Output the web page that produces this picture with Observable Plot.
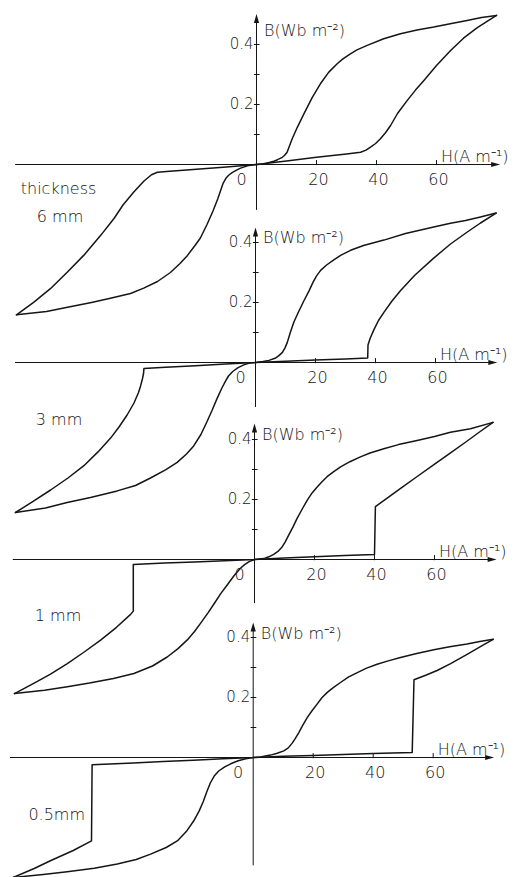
<!DOCTYPE html>
<html>
<head>
<meta charset="utf-8">
<script src="https://cdn.jsdelivr.net/npm/d3@7"></script>
<script src="https://cdn.jsdelivr.net/npm/@observablehq/plot@0.6"></script>
<style>
  html, body { margin: 0; padding: 0; background: #fff; overflow: hidden; }
  #chart { position: relative; width: 519px; height: 877px; overflow: hidden; background: #fff; }
  #chart svg { position: absolute; left: 0; }
</style>
</head>
<body>
<div id="chart"></div>
<script>
// ---- Data: B (Wb m^-2) versus H (A m^-1), pairs [H, B] ----
// 6 mm
const desc6 = [[80,0.497],[75,0.49],[70.2,0.48],[65,0.47],[59.1,0.458],[53.5,0.448],[48,0.436],[42.4,0.419],[36.9,0.397],[33.5,0.382],[31.3,0.369],[28.8,0.352],[26.9,0.336],[24.1,0.308],[21.3,0.269],[18.6,0.224],[15.8,0.169],[13.6,0.124],[11.9,0.086],[10.2,0.041],[9.3,0.03],[8.6,0.024],[7,0.016],[5.8,0.011],[2.4,0.002],[0,0],[-10,-0.008],[-20,-0.016],[-30,-0.023],[-33,-0.026],[-35,-0.034],[-37.5,-0.055],[-40.9,-0.092],[-44.5,-0.135],[-47.5,-0.18],[-52,-0.237],[-57.6,-0.303],[-63.1,-0.359],[-68.7,-0.414],[-74.2,-0.459],[-80,-0.501]];
const asc6 = [[-80,-0.501],[-70,-0.49],[-63,-0.476],[-55,-0.46],[-48.7,-0.446],[-42,-0.43],[-37.6,-0.412],[-33,-0.39],[-28.7,-0.36],[-25.5,-0.33],[-23,-0.303],[-20.5,-0.27],[-18.7,-0.245],[-16.5,-0.2],[-14.5,-0.155],[-12.9,-0.114],[-11.1,-0.062],[-10.2,-0.046],[-9.2,-0.035],[-8,-0.026],[-6.5,-0.018],[-5.3,-0.012],[-2.5,-0.003],[0,0],[10,0.012],[20,0.024],[30,0.035],[34.7,0.041],[36.5,0.048],[38,0.058],[39.7,0.07],[41.3,0.086],[43,0.106],[44.7,0.13],[47,0.17],[50.2,0.213],[53,0.248],[55.8,0.28],[60,0.33],[64.7,0.38],[69,0.421],[73.6,0.456],[77,0.478],[80,0.497]];
// 3 mm
const desc3 = [[80.2,0.498],[75,0.485],[70,0.473],[65,0.464],[59.4,0.452],[50,0.43],[42.8,0.408],[36,0.39],[31.7,0.374],[28.5,0.358],[26.1,0.342],[23.7,0.325],[21.7,0.307],[20.3,0.288],[19.2,0.268],[17.8,0.238],[16.1,0.205],[14.4,0.17],[12.8,0.135],[11.6,0.1],[10.6,0.067],[9.8,0.048],[8.9,0.033],[7.7,0.022],[6.5,0.014],[4.5,0.007],[2.5,0.003],[0,0],[-10,-0.005],[-20,-0.011],[-30,-0.016],[-37.2,-0.02],[-37.3,-0.035],[-37.7,-0.055],[-38.3,-0.078],[-39,-0.1],[-40.5,-0.135],[-42.8,-0.175],[-45.5,-0.215],[-48.3,-0.252],[-52.5,-0.298],[-57.2,-0.344],[-62.5,-0.385],[-68.3,-0.425],[-74,-0.462],[-80,-0.5]];
const asc3 = [[-80,-0.5],[-70,-0.485],[-62.8,-0.467],[-55,-0.45],[-46.1,-0.428],[-40,-0.41],[-35,-0.385],[-30,-0.358],[-26.1,-0.333],[-23,-0.305],[-20.6,-0.278],[-18.2,-0.24],[-16.3,-0.2],[-14.5,-0.16],[-12.9,-0.122],[-11.2,-0.085],[-10,-0.062],[-9,-0.045],[-7.6,-0.03],[-5.8,-0.017],[-3.9,-0.008],[-2,-0.002],[0,0],[10,0.004],[20,0.008],[30,0.012],[37.4,0.015],[37.5,0.058],[38.2,0.08],[39.4,0.108],[41,0.14],[42.8,0.167],[45.5,0.205],[48.3,0.239],[53,0.29],[59.4,0.348],[65,0.395],[70.6,0.435],[75,0.465],[80.2,0.498]];
// 1 mm
const desc1 = [[79.5,0.457],[72,0.436],[65.3,0.424],[60,0.41],[54.2,0.397],[48,0.383],[43.1,0.369],[38.5,0.355],[35.3,0.342],[31.8,0.326],[28.7,0.309],[26.3,0.292],[24.2,0.276],[22.5,0.259],[20.9,0.242],[19.2,0.222],[17.6,0.198],[16,0.17],[14.2,0.137],[12.8,0.108],[11.4,0.081],[10.2,0.058],[9.2,0.042],[7.8,0.027],[6.4,0.017],[4.8,0.009],[3.1,0.003],[0,0],[-10,-0.004],[-20,-0.008],[-30,-0.012],[-40.4,-0.017],[-40.4,-0.172],[-41.3,-0.183],[-46,-0.226],[-51.3,-0.269],[-57,-0.31],[-62.4,-0.347],[-68,-0.382],[-73.6,-0.413],[-80,-0.447]];
const asc1 = [[-80,-0.447],[-70,-0.436],[-62.4,-0.424],[-55,-0.412],[-47,-0.397],[-40.2,-0.38],[-34,-0.355],[-29.1,-0.325],[-25.5,-0.297],[-22.4,-0.268],[-20,-0.24],[-18,-0.213],[-15.5,-0.178],[-13.3,-0.145],[-11.2,-0.113],[-9.1,-0.085],[-6.9,-0.055],[-4.7,-0.029],[-3.3,-0.017],[-1.8,-0.007],[0,0],[10,0.005],[20,0.009],[30,0.013],[40,0.017],[40.3,0.176],[44,0.203],[48.7,0.237],[54,0.275],[59.8,0.316],[65,0.353],[70.9,0.395],[75,0.425],[79.5,0.457]];
// 0.5 mm
const desc05 = [[80,0.394],[75.5,0.387],[71.3,0.378],[65.5,0.369],[60.2,0.359],[54.5,0.347],[49.1,0.333],[45,0.322],[41.3,0.311],[37.8,0.298],[34.7,0.283],[31.7,0.268],[29.1,0.25],[26.8,0.234],[24.7,0.217],[22.9,0.199],[21.3,0.178],[19.6,0.156],[18,0.133],[16.5,0.107],[15.2,0.083],[14,0.063],[13,0.048],[11.7,0.032],[10.2,0.022],[8,0.014],[5.8,0.008],[2.4,0.002],[0,0],[-10,-0.004],[-20,-0.009],[-30,-0.013],[-40,-0.018],[-53.7,-0.024],[-53.9,-0.278],[-60,-0.31],[-67.6,-0.344],[-73,-0.37],[-80,-0.4]];
const asc05 = [[-80,-0.4],[-70,-0.39],[-62,-0.381],[-53,-0.369],[-45.3,-0.355],[-39,-0.34],[-34.2,-0.322],[-29,-0.3],[-25.3,-0.278],[-22.3,-0.247],[-19.8,-0.211],[-18,-0.178],[-16.6,-0.146],[-15.5,-0.115],[-14.3,-0.085],[-13,-0.062],[-11.5,-0.045],[-9.5,-0.031],[-7.5,-0.021],[-5,-0.011],[-2.5,-0.004],[0,0],[10,0.004],[20,0.007],[30,0.01],[40,0.013],[53,0.017],[53.6,0.259],[57.5,0.274],[61.3,0.29],[65.8,0.313],[71.3,0.344],[76.9,0.376],[80,0.394]];

// ---- Axis ticks and labels ----
const hTicks = [20, 40, 60];
const hTickLabels = ["20", "40", "60"];
const bTicks = [0.1, 0.2, 0.3, 0.4];
const bLabelTicks = [0.2, 0.4];
const bTickLabels = ["0.2", "0.4"];
const thicknessLabels = ["6 mm", "3 mm", "1 mm", "0.5mm"];
const xTitle = "H(A m\u207B\u00B9)";
const yTitle = "B(Wb m\u207B\u00B2)";
const headerLabel = "thickness";

// ---- Layout of the four stacked (overlapping) panels ----
const loops = [[asc6, desc6], [asc3, desc3], [asc1, desc1], [asc05, desc05]];
const layout = [
  {left: 16,   top: -1,    yTop: 0.502, yBottom: -0.153, xStart: -80.3, xEnd: 81.2, yTitleB: 0.445, labelB: -0.173},
  {left: 15,   top: 196.7, yTop: 0.45,  yBottom: -0.15,  xStart: -80,   xEnd: 80.6, yTitleB: 0.417, labelB: -0.191},
  {left: 14,   top: 394.3, yTop: 0.453, yBottom: -0.147, xStart: -80.4, xEnd: 80.7, yTitleB: 0.416, labelB: -0.189},
  {left: 12.7, top: 591.7, yTop: 0.45,  yBottom: -0.361, xStart: -80.9, xEnd: 80.3, yTitleB: 0.412, labelB: -0.191}
];

const ink = "#151515";
const font = "DejaVu Sans, Verdana, sans-serif";
// narrow filled arrowhead with its tip at the origin, pointing up
const arrowHead = {
  draw(context) {
    context.moveTo(0, 0);
    context.lineTo(2.6, 9);
    context.lineTo(-2.6, 9);
    context.closePath();
  }
};

const chart = document.getElementById("chart");

loops.forEach(([asc, desc], i) => {
  const L = layout[i];
  const txt = {fontSize: 16, fontFamily: font, fontWeight: 300, fill: ink};
  const marks = [
    // axes
    Plot.ruleY([0], {x1: L.xStart, x2: L.xEnd - 2, stroke: ink, strokeWidth: 1}),
    Plot.ruleX([0], {y1: L.yBottom, y2: L.yTop - 0.02, stroke: ink, strokeWidth: 1}),
    Plot.dot([0], {x: L.xEnd, y: 0, symbol: arrowHead, rotate: 90, fill: ink, stroke: "none", r: 3}),
    Plot.dot([0], {x: 0, y: L.yTop, symbol: arrowHead, rotate: 0, fill: ink, stroke: "none", r: 3}),
    // ticks
    Plot.ruleX(hTicks, {x: d => d, y1: -0.004, y2: 0.013, stroke: ink, strokeWidth: 1}),
    Plot.ruleY(bTicks, {y: d => d, x1: -0.7, x2: 1.2, stroke: ink, strokeWidth: 1}),
    // tick labels
    Plot.text(hTickLabels, {...txt, x: (d, j) => hTicks[j], y: -0.05, dx: 2, text: d => d, textAnchor: "middle"}),
    Plot.text(["0"], {...txt, x: -5, y: -0.05, text: d => d, textAnchor: "middle"}),
    Plot.text(bTickLabels, {...txt, fontSize: 15, x: 0, y: (d, j) => bLabelTicks[j], dx: -3, text: d => d, textAnchor: "end", letterSpacing: -0.5}),
    // axis titles
    Plot.text([xTitle], {...txt, x: 61.5, y: 0.025, text: d => d, textAnchor: "start"}),
    Plot.text([yTitle], {...txt, x: 2.5, y: L.yTitleB, text: d => d, textAnchor: "start"}),
    // thickness label
    Plot.text([thicknessLabels[i]], {...txt, x: -65.5, y: L.labelB, text: d => d, textAnchor: "middle", letterSpacing: 0.3}),
    // hysteresis loop
    Plot.line(asc, {x: d => d[0], y: d => d[1], curve: "linear", stroke: ink, strokeWidth: 1.5, strokeLinejoin: "round"}),
    Plot.line(desc, {x: d => d[0], y: d => d[1], curve: "linear", stroke: ink, strokeWidth: 1.5, strokeLinejoin: "round"})
  ];
  if (i === 0) {
    marks.push(Plot.text([headerLabel], {...txt, x: -66, y: -0.08, text: d => d, textAnchor: "middle", letterSpacing: 0.5}));
  }
  const svg = Plot.plot({
    width: 519,
    height: 330,
    marginLeft: L.left,
    marginRight: 519 - L.left - 480,
    marginTop: 0,
    marginBottom: 0,
    x: {domain: [-80, 80], axis: null},
    y: {domain: [-0.55, 0.55], axis: null},
    style: {background: "transparent", overflow: "visible"},
    marks
  });
  svg.style.top = L.top + "px";
  chart.appendChild(svg);
});
</script>
</body>
</html>
